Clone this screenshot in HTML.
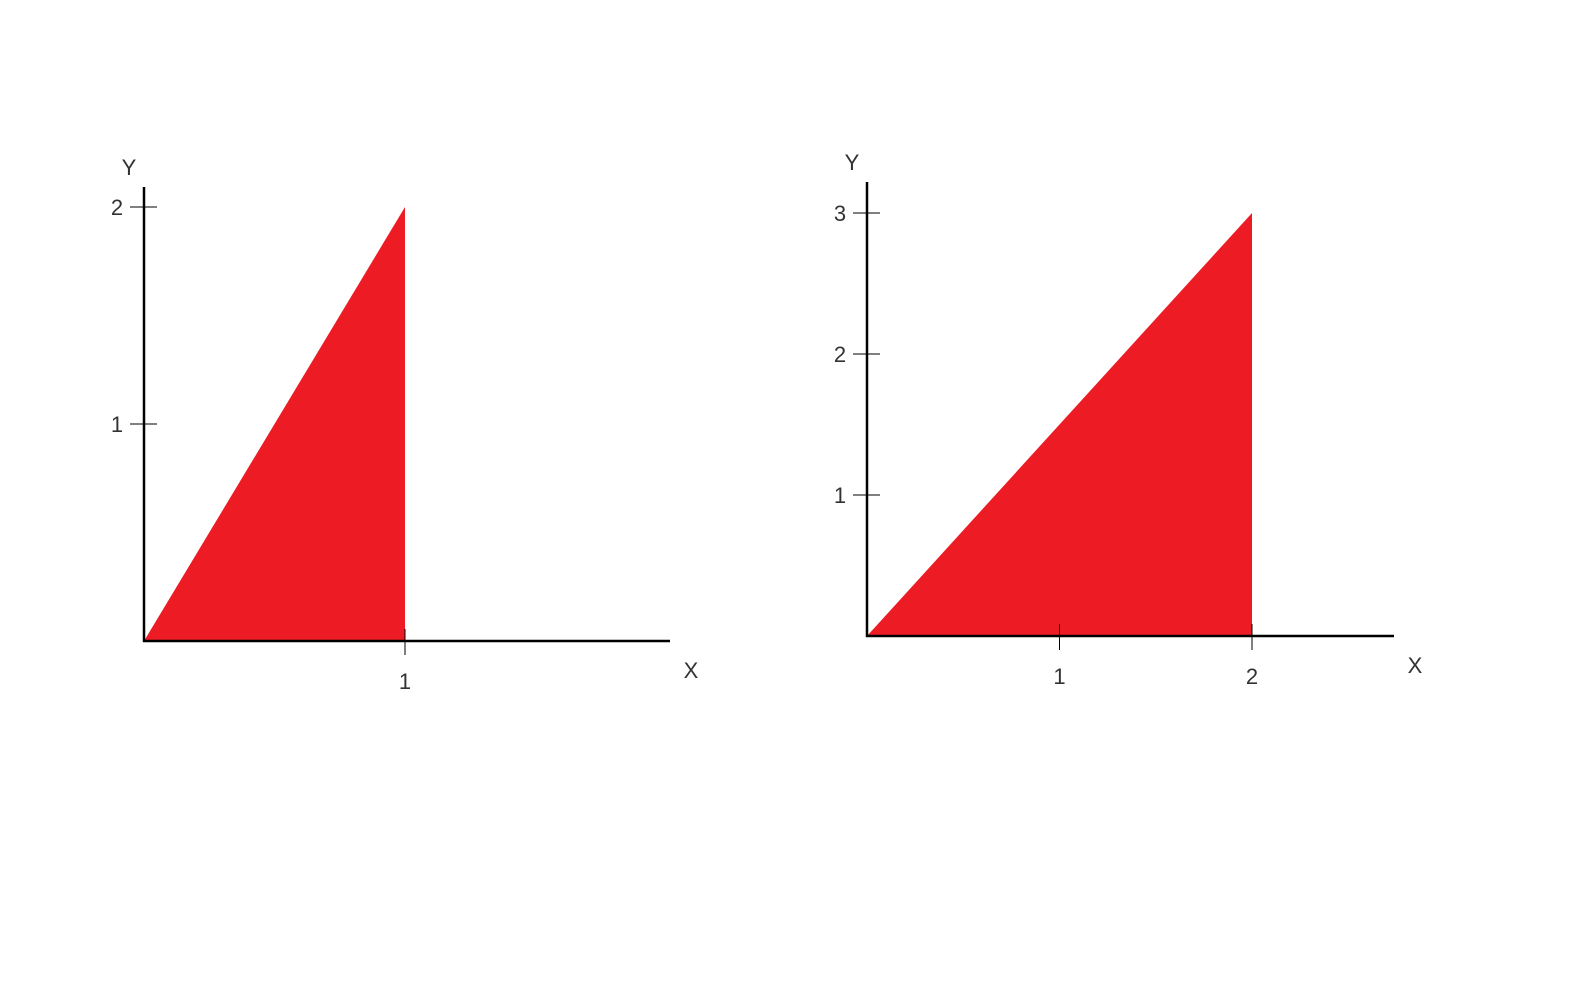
<!DOCTYPE html>
<html><head><meta charset="utf-8"><style>
html,body{margin:0;padding:0;background:#fff;}
svg{display:block;font-family:"Liberation Sans","DejaVu Sans",sans-serif;}
text{fill:#333;font-size:22px;}
</style></head><body>
<svg id="svg" width="1584" height="985"></svg>
<script>
// Left chart data
const leftPoints = [[0,0],[1,2],[1,0]];
const leftXTicks = [1];
const leftYTicks = [1,2];
// Right chart data
const rightPoints = [[0,0],[2,3],[2,0]];
const rightXTicks = [1,2];
const rightYTicks = [1,2,3];

const NS='http://www.w3.org/2000/svg';
const svg=document.getElementById('svg');
function mk(tag,attrs,parent){const e=document.createElementNS(NS,tag);for(const k in attrs)e.setAttribute(k,attrs[k]);(parent||svg).appendChild(e);return e;}

function drawChart(cfg,pts,xt,yt,name){
  const g=mk('g',{});
  
  
  const sx=v=>cfg.x0+(cfg.x1-cfg.x0)*v/cfg.xMax;
  const sy=v=>cfg.y0-(cfg.y0-cfg.y1)*v/cfg.yMax;
  const poly=mk('polygon',{points:pts.map(p=>sx(p[0])+','+sy(p[1])).join(' '),fill:'#ed1c24'},g);
  
  
  const ya=mk('line',{x1:cfg.x0,y1:cfg.yTop,x2:cfg.x0,y2:cfg.y0+1,stroke:'#000','stroke-width':2.5},g);
  
  
  const xa=mk('line',{x1:cfg.x0-1,y1:cfg.y0,x2:cfg.xRight,y2:cfg.y0,stroke:'#000','stroke-width':2.5},g);
  
  
  yt.forEach(v=>{
    const y=sy(v);
    const t=mk('line',{x1:cfg.x0-14,y1:y,x2:cfg.x0+13,y2:y,stroke:'#000','stroke-width':1},g);
    
    
    const l=mk('text',{x:cfg.x0-27,y:y+8,'text-anchor':'middle'},g);l.textContent=v;
    
    
  });
  xt.forEach(v=>{
    const x=sx(v);
    const t=mk('line',{x1:x,y1:cfg.y0-12,x2:x,y2:cfg.y0+14,stroke:'#000','stroke-width':1},g);
    
    
    const l=mk('text',{x:x,y:cfg.y0+48,'text-anchor':'middle'},g);l.textContent=v;
    
    
  });
  const xl=mk('text',{x:cfg.xRight+21,y:cfg.y0+37,'text-anchor':'middle'},g);xl.textContent='X';
  
  
  const yl=mk('text',{x:cfg.x0-15,y:cfg.yTop-12,'text-anchor':'middle'},g);yl.textContent='Y';
  
  
}
drawChart({x0:144,x1:405,xMax:1,y0:641,y1:207,yMax:2,yTop:187,xRight:670},leftPoints,leftXTicks,leftYTicks,'left-chart');
drawChart({x0:867,x1:1252,xMax:2,y0:636,y1:213,yMax:3,yTop:182,xRight:1394},rightPoints,rightXTicks,rightYTicks,'right-chart');
</script>
</body></html>
